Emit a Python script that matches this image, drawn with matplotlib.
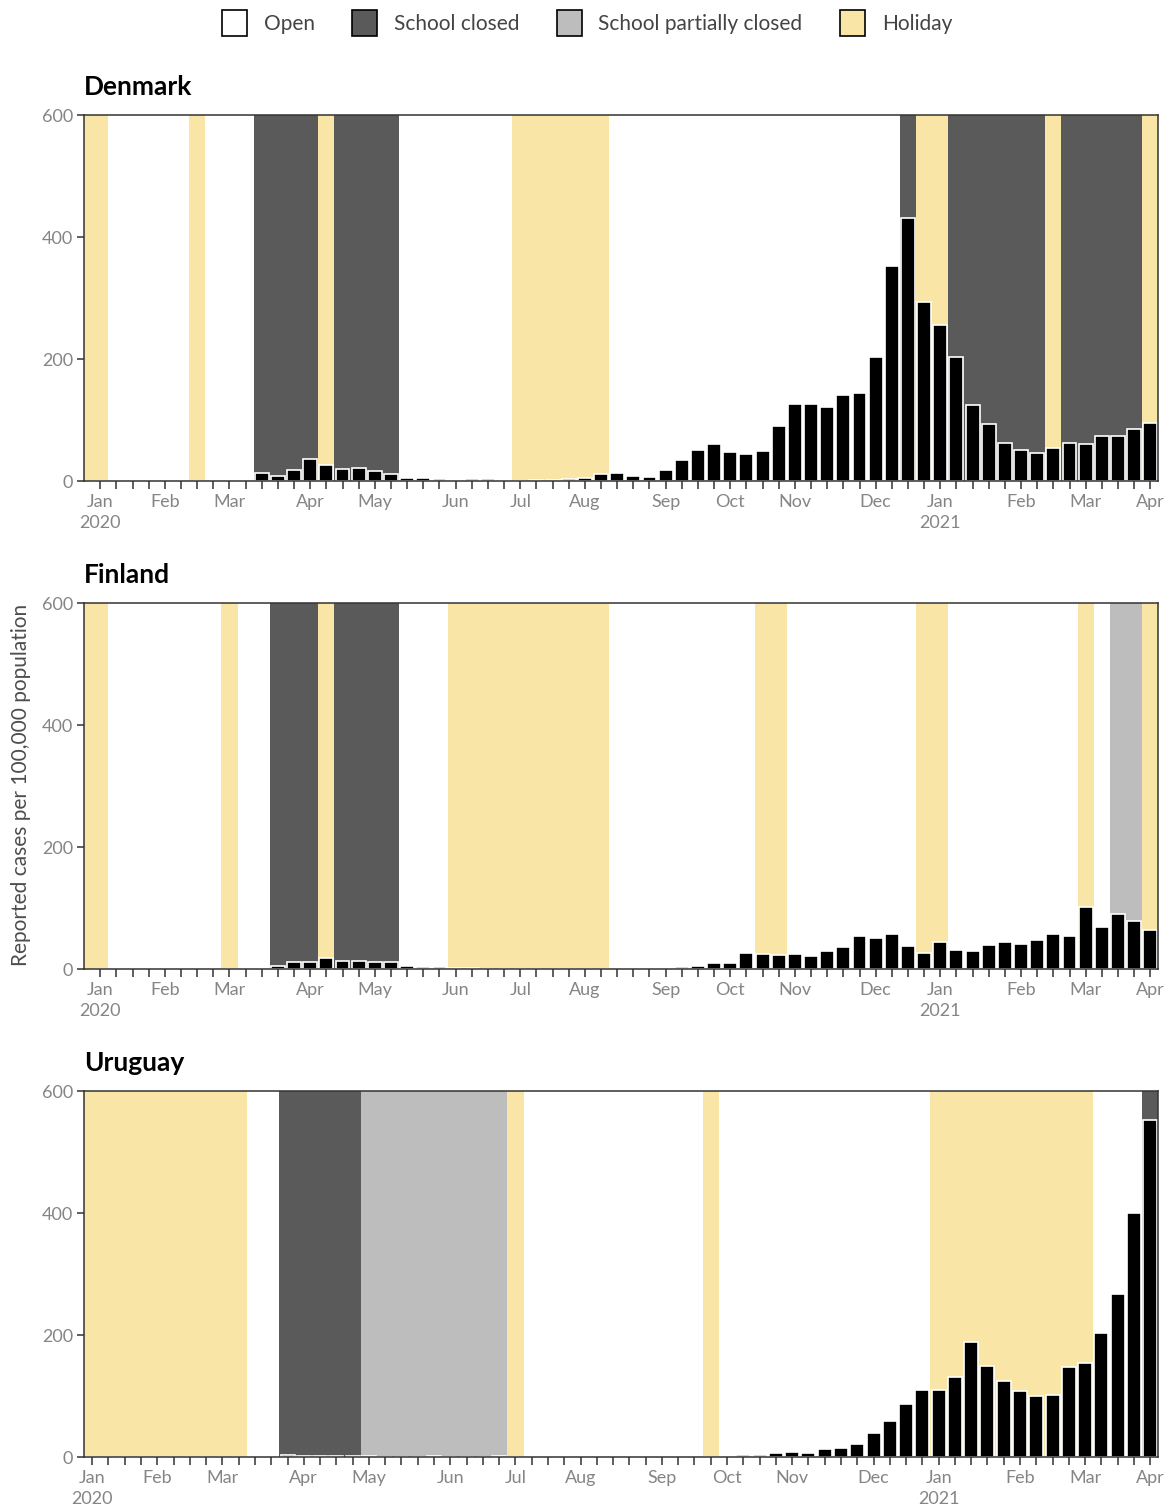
import numpy as np
import pandas as pd
import matplotlib
matplotlib.use("Agg")
import matplotlib.pyplot as plt
from matplotlib.patches import Patch

plt.rcParams["font.family"] = ["Lato", "DejaVu Sans"]

# weekly bars, week 0 = week starting Monday 2019-12-30
start = pd.Timestamp("2019-12-30")
weeks = np.arange(66)

# school status as runs of weeks (status, n weeks), first run starts at week -1
# O = open, C = closed, P = partially closed, H = holiday
denmark_status = [("H", 2), ("O", 5), ("H", 1), ("O", 3), ("C", 4), ("H", 1), ("C", 4),
                  ("O", 7), ("H", 6), ("O", 18), ("C", 1), ("H", 2), ("C", 6), ("H", 1),
                  ("C", 5), ("H", 1)]
finland_status = [("H", 2), ("O", 7), ("H", 1), ("O", 2), ("C", 3), ("H", 1), ("C", 4),
                  ("O", 3), ("H", 10), ("O", 9), ("H", 2), ("O", 8), ("H", 2), ("O", 8),
                  ("H", 1), ("O", 1), ("P", 2), ("H", 1)]
uruguay_status = [("H", 11), ("O", 2), ("C", 5), ("P", 9), ("H", 1), ("O", 11), ("H", 1),
                  ("O", 13), ("H", 10), ("O", 3), ("C", 1)]

denmark_cases = [0, 0, 0, 0, 0, 0, 0, 0, 0, 0,
                 14, 8, 17.5, 36, 27, 20, 22, 17, 11.5, 5.5,
                 5, 3.3, 2, 3, 3, 2, 0.8, 1.5, 2.5, 3,
                 5.5, 12, 13.7, 8.7, 7, 18, 35, 51, 61, 47.5,
                 45, 48.6, 89.6, 125.7, 127, 121, 141, 144, 203, 353,
                 432, 293, 256, 204, 124.6, 93.4, 62.8, 51.4, 46, 53.6,
                 62.8, 60.7, 74.3, 74.3, 85.8, 96]
finland_cases = [0, 0, 0, 0, 0, 0, 0, 0, 0, 0.5,
                 1, 5.5, 12, 11.5, 17.5, 13, 13.7, 11.5, 11.5, 5.5,
                 3.8, 2.7, 1.6, 1, 0.8, 0.5, 0.3, 0.3, 0.3, 0.5,
                 0.5, 0.5, 1, 1, 0.5, 1, 3, 5, 10, 10,
                 27, 24, 23, 24, 21, 29.5, 36.7, 54, 51, 57,
                 37, 26, 45, 30.6, 29.5, 38.8, 45, 41.6, 48, 58,
                 54.7, 101, 69.5, 91, 78.8, 63.5]
uruguay_cases = [0, 0, 0, 0, 0, 0, 0, 0, 0, 0,
                 0, 0, 4, 2.5, 1.5, 1, 1, 1.5, 0.5, 0.5,
                 0.5, 1.5, 0.5, 0.3, 0.3, 1, 0.5, 0.3, 0.3, 0.5,
                 0.8, 0.5, 0.3, 0.3, 0.3, 0.3, 0.5, 0.5, 0.5, 1.6,
                 2.7, 3.8, 6.6, 7.7, 6, 12.6, 15.3, 21.9, 39.3, 59,
                 87.4, 110, 110, 131, 188.5, 149, 124, 107.7, 100.5, 101,
                 147.5, 153.6, 203.8, 266.7, 400, 553]

countries = ["Denmark", "Finland", "Uruguay"]
statuses = [denmark_status, finland_status, uruguay_status]
cases = [denmark_cases, finland_cases, uruguay_cases]
x_start = [-1, -1, -0.5]

status_colors = {"O": "white", "C": "#5a5a5a", "P": "#bdbdbd", "H": "#f9e6a6"}
status_labels = {"O": "Open", "C": "School closed", "P": "School partially closed", "H": "Holiday"}

# month label sits on the week that contains the 1st of the month
months = pd.date_range("2020-01-01", "2021-04-01", freq="MS")
month_pos = [(m - start).days // 7 for m in months]
month_lab = [m.strftime("%b") + ("\n" + str(m.year) if m.month == 1 else "") for m in months]

fig = plt.figure(figsize=(11.74, 15.08), dpi=100)
bottoms = [0.681, 0.3574, 0.0338]

for i in range(3):
    ax = fig.add_axes([0.0716, bottoms[i], 0.9151, 0.2425])
    k = -1
    for st, n in statuses[i]:
        ax.axvspan(k - 0.5, k + n - 0.5, color=status_colors[st], lw=0, zorder=1)
        k += n
    ax.bar(weeks, cases[i], width=0.86, color="black", edgecolor="white",
           linewidth=1.2, zorder=3)
    ax.set_xlim(x_start[i], 65.5)
    ax.set_ylim(0, 600)
    ax.set_yticks([0, 200, 400, 600])
    ax.set_xticks(month_pos)
    ax.set_xticklabels(month_lab, linespacing=1.45)
    ax.set_xticks(weeks, minor=True)
    ax.tick_params(axis="x", which="both", length=6, width=1.1, color="#333333")
    ax.tick_params(axis="x", which="major", pad=3, labelsize=13, labelcolor="#858585")
    ax.tick_params(axis="y", length=5, width=1.1, color="#333333", labelsize=13,
                   labelcolor="#858585", pad=3)
    for sp in ax.spines.values():
        sp.set_color("#333333")
        sp.set_linewidth(1.1)
        sp.set_zorder(5)
    ax.set_title(countries[i], loc="left", fontsize=19, fontweight="bold", pad=15)

fig.text(0.018, 0.4794, "Reported cases per 100,000 population", rotation=90,
         ha="center", va="center", fontsize=15, color="#4d4d4d")

handles = [Patch(facecolor=status_colors[s], edgecolor="black", linewidth=1.2, label=status_labels[s])
           for s in ["O", "C", "P", "H"]]
leg = fig.legend(handles=handles, loc="center", bbox_to_anchor=(0.5, 1 - 23 / 1508), ncol=4,
                 frameon=False, fontsize=15, handlelength=1.2, handleheight=1.5,
                 handletextpad=0.8, columnspacing=1.8)
for t in leg.get_texts():
    t.set_color("#444444")

fig.savefig("out.png", dpi=100)
